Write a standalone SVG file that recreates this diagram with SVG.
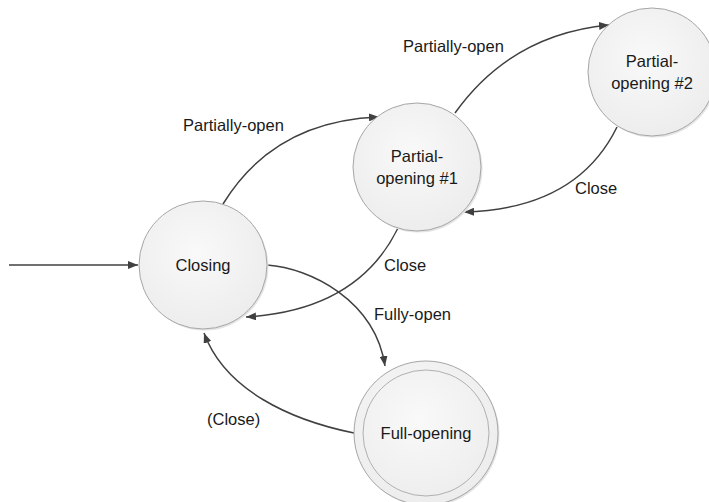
<svg xmlns="http://www.w3.org/2000/svg" width="709" height="502" viewBox="0 0 709 502">
<style>
.st{fill:url(#g);stroke:#a6a6a6;stroke-width:1}
.in{fill:none;stroke:#b0b0b0;stroke-width:1}
.sh{fill:#e4e4e4;stroke:none}
.t{font-family:"Liberation Sans",Arial,sans-serif;font-size:16.5px;fill:#1a1a1a}
.c{text-anchor:middle}
.e{fill:none;stroke:#404040;stroke-width:1.5;marker-end:url(#a)}
</style>
<defs>
<radialGradient id="g" cx="0.45" cy="0.4" r="0.65">
<stop offset="0" stop-color="#f9f9f9"/>
<stop offset="1" stop-color="#ececec"/>
</radialGradient>
<marker id="a" viewBox="0 0 10 8" refX="10" refY="4" markerWidth="10" markerHeight="8" markerUnits="userSpaceOnUse" orient="auto">
<path d="M0,0 L10,4 L0,8 Z" fill="#404040"/>
</marker>
</defs>
<g id="edges">
<path class="e" d="M9 265 L138 265"/>
<path class="e" d="M223 204 C 250 160, 295 120, 379 117"/>
<path class="e" d="M455 113 C 480 78, 525 33, 609 25"/>
<path class="e" d="M617 127 C 592 178, 545 210, 464 212"/>
<path class="e" d="M398 228 C 375 275, 330 312, 246 317"/>
<path class="e" d="M267 265 C 310 268, 375 300, 385 366"/>
<path class="e" d="M354 433 C 290 420, 225 390, 204 333"/>
</g>
<g id="labels">
<text class="t" x="183" y="131">Partially-open</text>
<text class="t" x="403" y="52">Partially-open</text>
<text class="t" x="575" y="194">Close</text>
<text class="t" x="384" y="271">Close</text>
<text class="t" x="374" y="320">Fully-open</text>
<text class="t" x="207" y="425">(Close)</text>
</g>
<g id="closing">
<circle class="sh" cx="204.5" cy="266.5" r="64"/>
<circle class="st" cx="203" cy="265" r="64"/>
<text class="t c" x="203" y="271">Closing</text>
</g>
<g id="partial1">
<circle class="sh" cx="418.5" cy="168.5" r="64"/>
<circle class="st" cx="417" cy="167" r="64"/>
<text class="t c" x="417" y="162">Partial-</text>
<text class="t c" x="417" y="184">opening #1</text>
</g>
<g id="partial2">
<circle class="sh" cx="653.5" cy="73.5" r="64"/>
<circle class="st" cx="652" cy="72" r="64"/>
<text class="t c" x="652" y="67">Partial-</text>
<text class="t c" x="652" y="89">opening #2</text>
</g>
<g id="full">
<circle class="sh" cx="427.5" cy="434.5" r="72"/>
<circle class="st" cx="426" cy="433" r="72"/>
<circle class="in" cx="426" cy="433" r="63"/>
<text class="t c" x="426" y="439">Full-opening</text>
</g>
</svg>
